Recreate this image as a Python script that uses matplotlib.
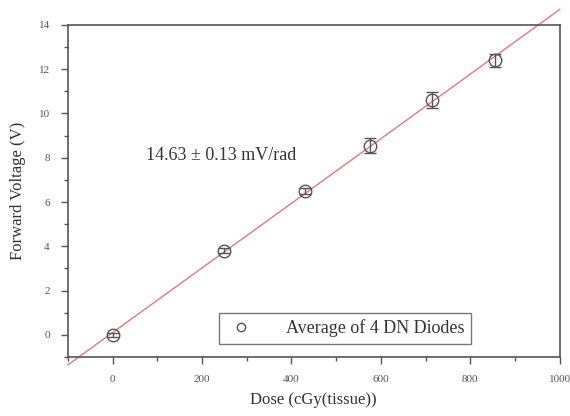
import matplotlib
matplotlib.use("Agg")
import matplotlib.pyplot as plt
from matplotlib.lines import Line2D
from matplotlib.ticker import MultipleLocator
import numpy as np

plt.rcParams["font.family"] = ["Liberation Serif", "DejaVu Serif"]

# measured averages (4 DN diodes)
dose = [0, 250, 430, 575, 715, 855]
voltage = [0.0, 3.8, 6.5, 8.55, 10.6, 12.4]
voltage_err = [0.1, 0.12, 0.15, 0.35, 0.35, 0.3]

# linear fit
fit_slope = 0.0146
fit_intercept = 0.1
fit_x = [-100, 1000]

fig = plt.figure(figsize=(5.7, 4.16), dpi=100)
ax = fig.add_axes([0.119, 0.142, 0.863, 0.798])

fx = np.array(fit_x)
ax.plot(fx, fit_intercept + fit_slope * fx, color="#e07a7a", linewidth=1.0,
        clip_on=False, zorder=2)

ax.errorbar(dose, voltage, yerr=voltage_err, fmt="o", markersize=9,
            markerfacecolor="none", markeredgecolor="#555555", markeredgewidth=1.0,
            ecolor="#555555", elinewidth=1.0, capsize=4.5, zorder=3)

ax.text(74, 8.1, "14.63 \u00b1 0.13 mV/rad", fontsize=13, color="#333333",
        ha="left", va="center")

ax.set_xlim(-100, 1000)
ax.set_ylim(-1, 14)
ax.xaxis.set_major_locator(MultipleLocator(200))
ax.xaxis.set_minor_locator(MultipleLocator(100))
ax.yaxis.set_major_locator(MultipleLocator(2))
ax.yaxis.set_minor_locator(MultipleLocator(1))
ax.tick_params(which="both", direction="out", colors="#555555", labelsize=8,
               top=False, right=False)
ax.tick_params(which="major", length=5, width=1.0, pad=8)
ax.tick_params(which="minor", length=3, width=1.0)
for s in ax.spines.values():
    s.set_color("#555555")
    s.set_linewidth(1.2)

ax.set_xlabel("Dose (cGy(tissue))", fontsize=12, color="#333333", labelpad=6)
ax.set_ylabel("Forward Voltage (V)", fontsize=12, color="#333333", labelpad=9)

handle = Line2D([], [], linestyle="none", marker="o", markersize=6,
                markerfacecolor="none", markeredgecolor="#555555",
                label="Average of 4 DN Diodes")
leg = ax.legend(handles=[handle], loc="lower center",
                bbox_to_anchor=(0.563, 0.04), fontsize=13,
                fancybox=False, edgecolor="#555555", handlelength=1.8,
                handletextpad=1.6, borderpad=0.35, borderaxespad=0)
leg.get_frame().set_linewidth(1.0)
for t in leg.get_texts():
    t.set_color("#333333")

fig.savefig("out.png", dpi=100)
